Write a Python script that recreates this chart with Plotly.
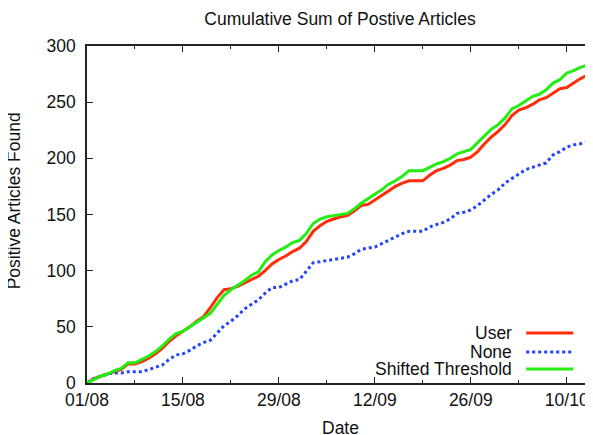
import plotly.graph_objects as go
import pandas as pd

# ---- data ----
start_date = "2011-08-01"
n_days = 75
dates = pd.date_range(start_date, periods=n_days, freq="D")

user = [0, 4, 6, 8, 10, 12, 17, 17, 19, 22,
        26, 31, 37, 42, 46, 50, 55, 59, 67, 76,
        83, 84, 86, 89, 92, 95, 100, 106, 110, 113,
        117, 120, 126, 135, 140, 144, 146, 148, 149, 153,
        158, 159, 163, 167, 171, 175, 178, 180, 180, 180,
        185, 189, 191, 194, 198, 199, 201, 206, 213, 219,
        224, 230, 238, 243, 245, 248, 252, 254, 258, 262,
        263, 267, 271, 274, 277]

none = [0, 4, 6, 8, 9, 9, 10, 10, 10, 12,
        14, 16, 21, 25, 26, 29, 33, 36, 38, 45,
        51, 55, 60, 66, 70, 74, 80, 85, 85, 88,
        91, 92, 100, 107, 108, 109, 110, 111, 112, 115,
        119, 120, 121, 124, 127, 130, 133, 135, 135, 135,
        139, 141, 143, 146, 151, 152, 154, 158, 163, 168,
        172, 178, 182, 186, 190, 192, 194, 196, 203, 206,
        210, 212, 213, 215, 217]

shifted = [0, 3, 6, 8, 11, 13, 18, 18, 21, 24,
           28, 33, 39, 44, 46, 50, 54, 58, 62, 70,
           78, 83, 87, 91, 96, 99, 108, 114, 118, 121,
           125, 127, 133, 142, 146, 148, 149, 150, 151, 155,
           160, 164, 168, 172, 177, 180, 184, 189, 189, 189,
           192, 195, 197, 200, 204, 206, 208, 214, 220, 226,
           230, 236, 244, 247, 251, 255, 257, 261, 267, 270,
           276, 278, 281, 283, 285]

series_names = ["User", "None", "Shifted Threshold"]
series_values = [user, none, shifted]
series_colors = ["#ff2d0a", "#2244ff", "#22ee11"]
series_dash = ["solid", "dot", "solid"]

x_range = ["2011-08-01", "2011-10-13 20:00"]
y_ticks = [0, 50, 100, 150, 200, 250, 300]

FONT = "Liberation Sans, Arial, Helvetica, sans-serif"
FS = 17.5
DAY_MS = 86400000

# the page body has an 8px margin, so the figure is made 8px smaller on the
# left/top sides to keep the plot area where the reference has it
W, H = 585, 427

fig = go.Figure()
for name, vals, col, dash in zip(series_names, series_values, series_colors, series_dash):
    fig.add_trace(go.Scatter(
        x=dates, y=vals, mode="lines", name=name,
        line=dict(color=col, width=3, dash=dash),
        showlegend=False, cliponaxis=True,
    ))

axis_common = dict(
    showline=True, linecolor="#222", linewidth=1.5, mirror="ticks",
    ticks="inside", tickcolor="#222", tickwidth=1.2, ticklen=6,
    showgrid=False, zeroline=False, automargin=False,
    tickfont=dict(family=FONT, size=FS, color="#111"),
)

fig.update_xaxes(
    type="date", range=x_range,
    tick0="2011-08-01", dtick=14 * DAY_MS, tickformat="%d/%m",
    minor=dict(ticks="inside", ticklen=3, tickcolor="#222", dtick=7 * DAY_MS,
               tick0="2011-08-01", showgrid=False),
    **axis_common,
)
fig.update_yaxes(range=[0, 300], tickvals=y_ticks, ticklabelstandoff=6, **axis_common)

annotations = [
    dict(text="Date", x=0.5, y=-0.1335, xref="paper", yref="paper",
         xanchor="center", yanchor="middle", showarrow=False,
         font=dict(family=FONT, size=FS, color="#111")),
    dict(text="Positive Articles Found", x=-0.1436, y=0.54, xref="paper", yref="paper",
         xanchor="center", yanchor="middle", showarrow=False, textangle=-90,
         font=dict(family=FONT, size=FS, color="#111")),
]
shapes = []
legend_y = [0.148, 0.092, 0.0415]
for name, col, dash, ly in zip(series_names, series_colors, series_dash, legend_y):
    annotations.append(dict(text=name, x=0.844, y=ly, xref="paper", yref="paper",
                            xanchor="right", yanchor="middle", showarrow=False,
                            font=dict(family=FONT, size=FS, color="#111")))
    shapes.append(dict(type="line", xref="paper", yref="paper",
                       x0=0.868, x1=0.961, y0=ly, y1=ly,
                       line=dict(color=col, width=3, dash=dash)))

fig.update_layout(
    width=W, height=H,
    margin=dict(l=79, r=0, t=38, b=52, autoexpand=False),
    paper_bgcolor="white", plot_bgcolor="white",
    title=dict(text="Cumulative Sum of Postive Articles", x=0.5, xref="paper",
               y=1 - 11 / H, yref="container", xanchor="center", yanchor="middle",
               font=dict(family=FONT, size=FS, color="#111")),
    annotations=annotations, shapes=shapes,
    showlegend=False,
)

fig.write_html("out.html")
